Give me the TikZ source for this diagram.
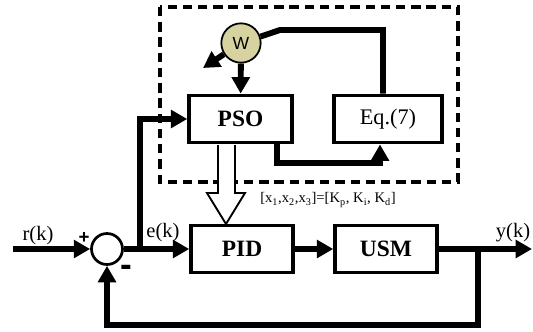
\documentclass[tikz,border=0pt]{standalone}
\usepackage{fontspec}
\setmainfont{Liberation Serif}
\setsansfont{Liberation Sans}
\usetikzlibrary{arrows.meta,positioning}
\definecolor{wfill}{HTML}{D6D3A1}
\tikzset{
  blk/.style={draw,line width=3pt,minimum width=#1,minimum height=1.42cm,inner sep=0pt,
    font=\fontsize{20}{22}\selectfont\bfseries},
  wire/.style={line width=5pt},
  sig/.style={wire,-{Triangle[length=14pt,width=15pt]}},
  lbl/.style={inner sep=0pt,font=\fontsize{17.5}{19}\selectfont},
}

\begin{document}
\begin{tikzpicture}[x=0.03cm,y=-0.03cm]
  \useasboundingbox (0,0) rectangle (533,331);
  % optimiser part
  \draw[line width=3pt,dash pattern=on 8pt off 5pt] (160,7) rectangle (458,182);
  \node[blk=3.09cm] (pso) at (240.5,119) {PSO};
  \node[blk=3.24cm,font=\fontsize{19}{21}\selectfont] (eq) at (388,119) {Eq.(7)};
  \node[circle,draw,fill=wfill,line width=1.5pt,minimum size=1.18cm,inner sep=0pt,
    font=\sffamily\fontsize{15}{17}\selectfont] (w) at (241,43) {W};
  % control loop
  \node[blk=3.06cm] (pid) at (242,249) {PID};
  \node[blk=3.06cm] (usm) at (386,249) {USM};
  \node[circle,draw,line width=2.3pt,minimum size=0.93cm,inner sep=0pt] (sum) at (107,249) {};

  \coordinate (rin) at (13,249);
  \coordinate (ebr) at (140,249);
  \coordinate (ybr) at (478,249);
  \coordinate (yout) at (532,249);
  \coordinate (fb) at (478,325);
  \coordinate (wout) at (203,68);
  \coordinate (wk) at (280,30);
  \coordinate (pq) at (380,163);

  \draw[sig] (rin) -- (sum);
  \draw[sig] (sum) -- (pid);
  \draw[sig] (ebr) |- (pso.west);
  \draw[sig] (pid) -- (usm);
  \draw[sig] (usm) -- (yout);
  \draw[sig] (ybr) -- (fb) -| (sum.south);
  \draw[sig] (w) -- (pso);
  \draw[sig] (w) -- (wout);
  \draw[wire] (w) -- (wk) -| ([xshift=-0.15cm]eq.north);
  \draw[sig] ([xshift=-0.5cm]pso.south east) |- (pq) -- (pq |- eq.south);
  % gains to PID
  \draw[line width=1.6pt,fill=white,line join=miter]
    (218,145) -- (218,193) -- (207,193) -- (226,224) -- (245,193) -- (235,193) -- (235,145);

  \node[lbl] (rk) at (38,236) {r(k)};
  \node[lbl] (ek) at (163,233) {e(k)};
  \node[lbl] (yk) at (513,233) {y(k)};
  \node[inner sep=0pt,font=\sffamily\bfseries\fontsize{16}{16}\selectfont] (plus) at (84,238) {+};
  \node[inner sep=0pt,font=\sffamily\bfseries\fontsize{30}{30}\selectfont] (minus) at (126,271) {-};
  \node[inner sep=0pt,font=\fontsize{12.5}{14}\selectfont] (gains) at (328,200)
    {[x\textsubscript{1},x\textsubscript{2},x\textsubscript{3}]=[K\textsubscript{p}, K\textsubscript{i}, K\textsubscript{d}]};
\end{tikzpicture}
\end{document}
